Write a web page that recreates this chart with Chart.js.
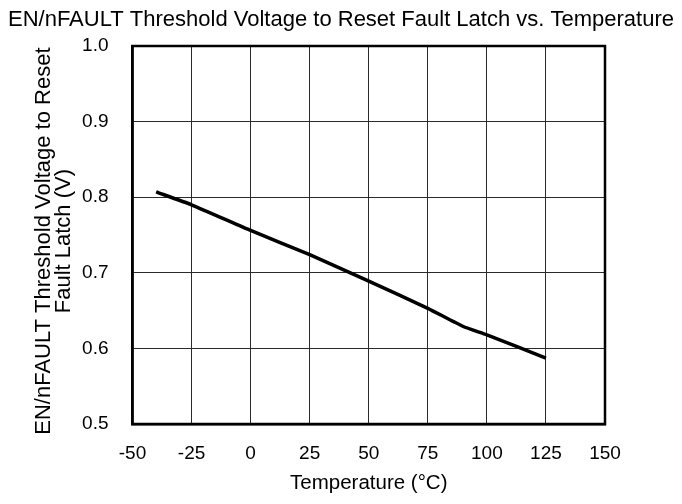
<!DOCTYPE html>
<html>
<head>
<meta charset="utf-8">
<script src="https://cdn.jsdelivr.net/npm/chart.js@4/dist/chart.umd.min.js"></script>
<style>
html,body{margin:0;padding:0;background:#fff;}
#wrap{width:682px;height:504px;}
</style>
</head>
<body>
<div id="wrap"><canvas id="c" width="682" height="504"></canvas></div>
<script>
const temperatures = [-40, -25, 0, 25, 50, 75, 90, 100, 125];
const voltages = [0.807, 0.790, 0.756, 0.724, 0.689, 0.653, 0.629, 0.618, 0.587];
const xTicks = [-50, -25, 0, 25, 50, 75, 100, 125, 150];
const yTicks = [0.5, 0.6, 0.7, 0.8, 0.9, 1.0];
const chartTitle = 'EN/nFAULT Threshold Voltage to Reset Fault Latch vs. Temperature';
const xTitle = 'Temperature (°C)';
const yTitle = ['EN/nFAULT Threshold Voltage to Reset  ', 'Fault Latch (V)  '];

const FONT = 'Liberation Sans, Arial, sans-serif';
const points = temperatures.map((t, i) => ({x: t, y: voltages[i]}));

new Chart(document.getElementById('c'), {
  type: 'line',
  data: {
    datasets: [{
      data: points,
      borderColor: '#000',
      borderWidth: 3.5,
      pointRadius: 0,
      tension: 0.15,
      fill: false,
      yAxisID: 'y'
    }]
  },
  options: {
    responsive: false,
    animation: false,
    layout: {padding: 0},
    plugins: {
      legend: {display: false},
      tooltip: {enabled: false},
      title: {
        display: true,
        text: chartTitle,
        color: '#000',
        font: {family: FONT, size: 22, weight: 'normal', lineHeight: 1.2},
        padding: {top: 7, bottom: 12.6}
      }
    },
    scales: {
      x: {
        type: 'linear',
        min: -50, max: 150,
        afterBuildTicks: s => { s.ticks = xTicks.map(v => ({value: v})); },
        afterFit: s => { s.height = 80; },
        grid: {color: '#2a2a2a', lineWidth: 1, drawTicks: false},
        border: {color: '#000', width: 2.5},
        ticks: {color: '#000', font: {family: FONT, size: 19}, padding: 18, maxRotation: 0},
        title: {display: true, text: xTitle, color: '#000', font: {family: FONT, size: 20.5}, padding: {top: 0, bottom: 8}}
      },
      y: {
        type: 'linear',
        min: 0.5, max: 1.0,
        afterBuildTicks: s => { s.ticks = yTicks.map(v => ({value: v})); },
        afterFit: s => { s.width = 132.5; },
        grid: {color: '#2a2a2a', lineWidth: 1, drawTicks: false},
        border: {color: '#000', width: 2.5},
        ticks: {color: '#000', font: {family: FONT, size: 19}, padding: 24, callback: v => Number(v).toFixed(1)},
        title: {display: true, text: yTitle, color: '#000', font: {family: FONT, size: 22, lineHeight: 0.92}, padding: {top: 34, bottom: 0}}
      },
      y2: {
        type: 'linear',
        position: 'right',
        display: true,
        min: 0, max: 1,
        afterFit: s => { s.width = 77; },
        grid: {display: false, drawTicks: false},
        border: {display: false},
        ticks: {display: false}
      }
    }
  },
  plugins: [{
    id: 'frame',
    afterDraw(chart) {
      const {ctx, chartArea: a} = chart;
      ctx.save();
      ctx.strokeStyle = '#000';
      ctx.lineWidth = 2.5;
      ctx.strokeRect(a.left, a.top, a.right - a.left, a.bottom - a.top);
      ctx.restore();
    }
  }]
});
</script>
</body>
</html>
